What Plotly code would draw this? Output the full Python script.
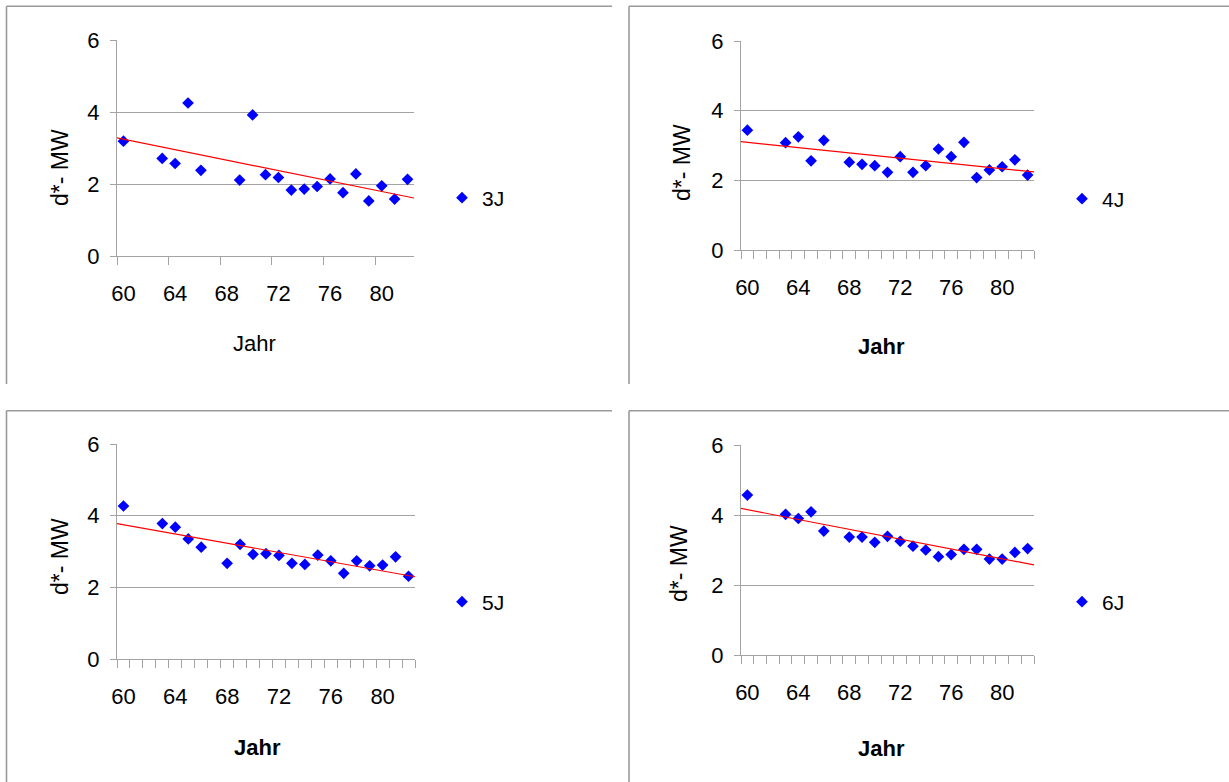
import numpy as np
import plotly.graph_objects as go

# ---------------- data ----------------
category_years = list(range(60, 83))
tick_label_years = [60, 64, 68, 72, 76, 80]
tick_labels = ["60", "64", "68", "72", "76", "80"]
y_ticks = [0, 2, 4, 6]

years_3J = [60, 63, 64, 65, 66, 69, 70, 71, 72, 73, 74, 75, 76, 77, 78, 79, 80, 81, 82]
values_3J = [3.19, 2.71, 2.57, 4.25, 2.38, 2.11, 3.92, 2.26, 2.18, 1.83, 1.86, 1.93,
             2.14, 1.76, 2.28, 1.53, 1.95, 1.58, 2.13]

years_4J = [60, 63, 64, 65, 66, 68, 69, 70, 71, 72, 73, 74, 75, 76, 77, 78, 79, 80, 81, 82]
values_4J = [3.44, 3.08, 3.25, 2.56, 3.15, 2.52, 2.46, 2.42, 2.23, 2.68, 2.23, 2.42,
             2.90, 2.68, 3.09, 2.08, 2.30, 2.39, 2.59, 2.15]

years_5J = [60, 63, 64, 65, 66, 68, 69, 70, 71, 72, 73, 74, 75, 76, 77, 78, 79, 80, 81, 82]
values_5J = [4.27, 3.78, 3.68, 3.35, 3.12, 2.67, 3.20, 2.92, 2.94, 2.89, 2.67, 2.64,
             2.90, 2.74, 2.39, 2.74, 2.60, 2.62, 2.85, 2.31]

years_6J = [60, 63, 64, 65, 66, 68, 69, 70, 71, 72, 73, 74, 75, 76, 77, 78, 79, 80, 81, 82]
values_6J = [4.57, 4.02, 3.90, 4.09, 3.54, 3.37, 3.37, 3.22, 3.39, 3.25, 3.11, 3.00,
             2.81, 2.87, 3.02, 3.02, 2.74, 2.74, 2.93, 3.04]

series_names = ["3J", "4J", "5J", "6J"]
x_title = "Jahr"
y_title = "d*- MW"

# ---------------- layout constants (pixels) ----------------
W, H = 1229, 782
FONT = "Arial, 'Liberation Sans', sans-serif"
GRAY = "#a3a3a3"
FS = 22

def px_x(v):
    return v / W

def px_y(v):
    return 1 - v / H

panels = [
    dict(years=years_3J, vals=values_3J, name=series_names[0], box=(117, 414, 40, 256),
         tickstep=4, bold=False, ytitle=(60, 168), xtitle=(255, 343), legend=(462, 198),
         border=(6.5, 6.3, 612, 384)),
    dict(years=years_4J, vals=values_4J, name=series_names[1], box=(741, 1034, 41, 250),
         tickstep=1, bold=True, ytitle=(682, 163), xtitle=(881, 347), legend=(1082, 199),
         border=(629, 6.3, 1229, 384)),
    dict(years=years_5J, vals=values_5J, name=series_names[2], box=(117, 415, 444, 659),
         tickstep=1, bold=True, ytitle=(60, 557), xtitle=(257, 747), legend=(462, 602),
         border=(6.5, 410.7, 612, 782)),
    dict(years=years_6J, vals=values_6J, name=series_names[3], box=(741, 1034, 445, 655),
         tickstep=1, bold=True, ytitle=(679, 564), xtitle=(881, 748), legend=(1082, 602),
         border=(629, 410.7, 1229, 782)),
]

x_lo = category_years[0] - 0.5
x_hi = category_years[-1] + 0.5

fig = go.Figure()
layout = dict(
    width=W, height=H, margin=dict(l=0, r=0, t=0, b=0, autoexpand=False),
    paper_bgcolor="white", plot_bgcolor="white",
    font=dict(family=FONT, size=FS, color="black"),
    annotations=[], shapes=[],
)

for i, p in enumerate(panels, start=1):
    xa = "x" if i == 1 else f"x{i}"
    ya = "y" if i == 1 else f"y{i}"
    xkey = "xaxis" if i == 1 else f"xaxis{i}"
    ykey = "yaxis" if i == 1 else f"yaxis{i}"
    lkey = "legend" if i == 1 else f"legend{i}"
    x0, x1, y0, y1 = p["box"]
    boundaries = [b + 0.5 for b in range(category_years[0] - 1, category_years[-1] + 1)
                  if (b + 0.5 - x_lo) % p["tickstep"] == 0]

    fig.add_trace(go.Scatter(
        x=p["years"], y=p["vals"], mode="markers", name=p["name"],
        marker=dict(symbol="diamond", size=9, color="#0000ff", line=dict(width=0)),
        xaxis=xa, yaxis=ya, legend=lkey, showlegend=True, hoverinfo="x+y"))

    slope, intercept = np.polyfit(p["years"], p["vals"], 1)
    tx = np.array([x_lo, x_hi])
    fig.add_trace(go.Scatter(
        x=tx, y=slope * tx + intercept, mode="lines",
        line=dict(color="#ff0000", width=1.2),
        xaxis=xa, yaxis=ya, showlegend=False, hoverinfo="skip"))

    layout[xkey] = dict(
        domain=[px_x(x0), px_x(x1)], anchor=ya, range=[x_lo, x_hi],
        tickmode="array", tickvals=tick_label_years, ticktext=tick_labels,
        ticks="", showgrid=False, zeroline=False,
        showline=True, linecolor=GRAY, linewidth=1.3,
        ticklabelstandoff=17, tickfont=dict(size=FS),
        minor=dict(tickmode="array", tickvals=boundaries, ticks="outside",
                   ticklen=8, tickwidth=1.3, tickcolor=GRAY, showgrid=False),
        fixedrange=True,
    )
    # overlay axis carrying the inner half of the crossing tick marks
    okey = f"xaxis{i + 4}"
    layout[okey] = dict(
        overlaying=xa, anchor=ya, side="bottom", range=[x_lo, x_hi],
        tickmode="array", tickvals=boundaries, ticks="inside", ticklen=7,
        tickwidth=1.3, tickcolor=GRAY, showticklabels=False, showgrid=False,
        zeroline=False, showline=False, fixedrange=True,
    )
    layout[ykey] = dict(
        domain=[px_y(y1), px_y(y0)], anchor=xa, range=[0, 6],
        tickmode="array", tickvals=y_ticks,
        ticks="outside", ticklen=6, tickwidth=1.3, tickcolor=GRAY,
        showgrid=True, gridcolor=GRAY, gridwidth=1.3, zeroline=False,
        showline=True, linecolor=GRAY, linewidth=1.3,
        ticklabelstandoff=6, tickfont=dict(size=FS),
        fixedrange=True,
    )
    layout[lkey] = dict(
        x=px_x(p["legend"][0] - 20), y=px_y(p["legend"][1]),
        xanchor="left", yanchor="middle", bgcolor="rgba(0,0,0,0)",
        font=dict(size=21, family=FONT), borderwidth=0,
    )
    # axis titles
    layout["annotations"].append(dict(
        text=y_title, x=px_x(p["ytitle"][0]), y=px_y(p["ytitle"][1]),
        xref="paper", yref="paper", showarrow=False, textangle=-90,
        xanchor="center", yanchor="middle", font=dict(size=23, family=FONT)))
    jt = f"<b>{x_title}</b>" if p["bold"] else x_title
    layout["annotations"].append(dict(
        text=jt, x=px_x(p["xtitle"][0]), y=px_y(p["xtitle"][1]),
        xref="paper", yref="paper", showarrow=False,
        xanchor="center", yanchor="middle", font=dict(size=FS, family=FONT)))
    # chart-area border (top and left edges; the rest is cropped)
    bx0, by0, bx1, by1 = p["border"]
    layout["shapes"].append(dict(type="line", xref="paper", yref="paper",
                                 x0=px_x(bx0), x1=px_x(bx1), y0=px_y(by0), y1=px_y(by0),
                                 line=dict(color="#9a9a9a", width=1.6)))
    layout["shapes"].append(dict(type="line", xref="paper", yref="paper",
                                 x0=px_x(bx0), x1=px_x(bx0), y0=px_y(by0), y1=px_y(by1),
                                 line=dict(color="#9a9a9a", width=1.6)))

fig.update_layout(**layout)
fig.write_html(
    "out.html",
    config={"displayModeBar": False},
    post_script="document.body.style.margin='0';document.body.style.overflow='hidden';",
)
